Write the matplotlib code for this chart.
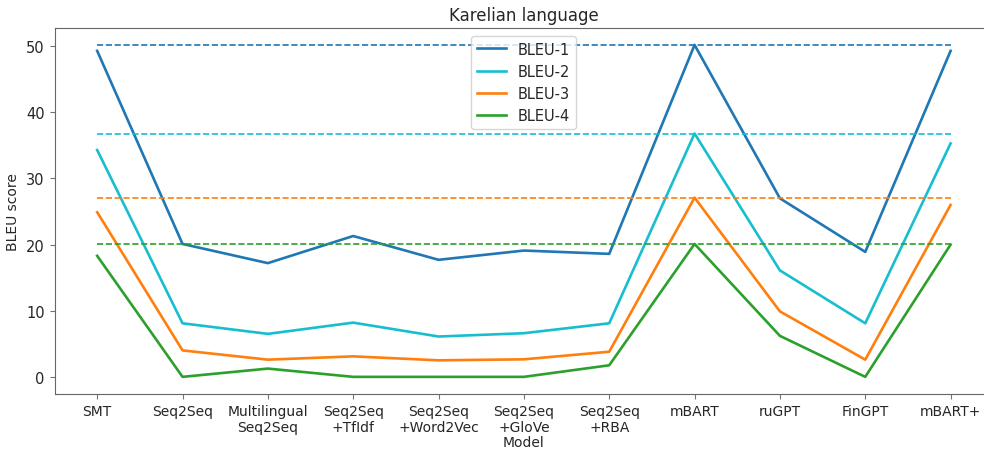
import matplotlib
matplotlib.use("Agg")
import matplotlib.pyplot as plt

models = ["SMT", "Seq2Seq", "Multilingual\nSeq2Seq", "Seq2Seq\n+TfIdf", "Seq2Seq\n+Word2Vec",
          "Seq2Seq\n+GloVe", "Seq2Seq\n+RBA", "mBART", "ruGPT", "FinGPT", "mBART+"]

bleu1 = [49.3, 20.1, 17.2, 21.3, 17.7, 19.1, 18.6, 50.2, 27.0, 18.9, 49.3]
bleu2 = [34.3, 8.1, 6.5, 8.2, 6.1, 6.6, 8.1, 36.8, 16.1, 8.1, 35.3]
bleu3 = [24.9, 4.0, 2.6, 3.1, 2.5, 2.65, 3.8, 27.1, 9.9, 2.6, 26.0]
bleu4 = [18.3, 0.0, 1.25, 0.0, 0.0, 0.0, 1.75, 20.1, 6.2, 0.0, 20.0]

series = [("BLEU-1", bleu1, "tab:blue"),
          ("BLEU-2", bleu2, "tab:cyan"),
          ("BLEU-3", bleu3, "tab:orange"),
          ("BLEU-4", bleu4, "tab:green")]

txt = "#262626"
plt.rcParams["font.family"] = "DejaVu Sans"

fig = plt.figure(figsize=(9.84, 4.52), dpi=100)
ax = fig.add_axes([0.0554, 0.126, 0.954, 0.809])

x = range(len(models))
for name, vals, col in series:
    ax.plot(x, vals, color=col, lw=1.9, label=name)
# dashed reference line at each series' best score
for name, vals, col in series:
    ax.hlines(max(vals), 0, len(models) - 1, colors=col, linestyles="--", lw=1.2)

ax.set_xlim(-0.5, len(models) - 0.5)
ax.set_ylim(-2.6, 52.7)
ax.set_xticks(list(x))
ax.set_xticklabels(models, fontsize=10, color=txt)
ax.set_yticks([0, 10, 20, 30, 40, 50])
ax.tick_params(axis="y", labelsize=10.5, labelcolor=txt)
ax.tick_params(colors="0.45", length=3.5)
for lab in ax.get_yticklabels():
    lab.set_color(txt)
for lab in ax.get_xticklabels():
    lab.set_color(txt)
for sp in ax.spines.values():
    sp.set_color("0.4")

ax.set_xlabel("Model", fontsize=10, color=txt, labelpad=1)
ax.set_ylabel("BLEU score", fontsize=10, color=txt)
ax.set_title("Karelian language", fontsize=12, color=txt)
ax.legend(loc="upper center", fontsize=10.5, labelcolor=txt)

fig.savefig("out.png", dpi=100)
